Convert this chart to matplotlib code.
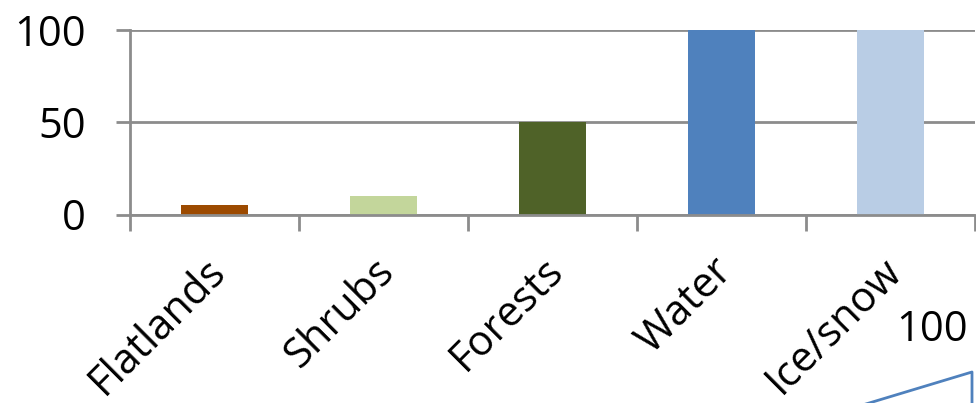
import matplotlib
matplotlib.use("Agg")
import matplotlib.pyplot as plt
from matplotlib.transforms import ScaledTranslation

plt.rcParams['font.family'] = ['Open Sans', 'DejaVu Sans']

categories = ["Flatlands", "Shrubs", "Forests", "Water", "Ice/snow"]
values = [5, 10, 50, 100, 100]
colors = ["#9C4A00", "#C3D69B", "#4F6228", "#4F81BD", "#B9CDE5"]
y_ticks = [0, 50, 100]

# fragment of a neighbouring line chart
side_x = [0, 1, 1]
side_y = [46, 100, 0]
side_label = "100"

W, H = 976, 403
fig = plt.figure(figsize=(W / 100, H / 100), dpi=100)
fig.patch.set_facecolor("white")

grey = "#8C8C8C"
fs = 30

ax = fig.add_axes([130 / W, 1 - 214.5 / H, 845 / W, (214.5 - 30) / H])
x = list(range(len(categories)))
ax.bar(x, values, width=0.4, color=colors, zorder=3)
ax.set_xlim(-0.5, len(categories) - 0.5)
ax.set_ylim(0, 100)
ax.set_yticks(y_ticks)
ax.set_yticklabels([str(v) for v in y_ticks], fontsize=fs)
ax.yaxis.grid(True, color=grey, linewidth=2, zorder=1)
ax.tick_params(axis='y', direction='out', length=10, width=2, color=grey, pad=22)

# category boundaries as major ticks, names on minor ticks
ax.set_xticks([i - 0.5 for i in range(len(categories) + 1)])
ax.set_xticklabels([])
ax.set_xticks(x, minor=True)
ax.set_xticklabels(categories, minor=True, fontsize=fs, rotation=45,
                   ha='right', va='center', rotation_mode='anchor')
ax.tick_params(axis='x', which='major', direction='out', length=11.5, width=2, color=grey)
ax.tick_params(axis='x', which='minor', length=0, pad=0)
shift = ScaledTranslation(5 / 100, -50 / 100, fig.dpi_scale_trans)
for lbl in ax.get_xticklabels(minor=True):
    lbl.set_transform(lbl.get_transform() + shift)

for side in ["top", "right"]:
    ax.spines[side].set_visible(False)
for side in ["left", "bottom"]:
    ax.spines[side].set_color(grey)
    ax.spines[side].set_linewidth(2)
ax.spines["left"].set_zorder(4)
ax.spines["bottom"].set_zorder(4)

# partial second chart in the lower right corner
ax2 = fig.add_axes([700 / W, -0.3, 272 / W, 0.3 + (1 - 372 / H)])
ax2.plot(side_x, side_y, color="#4F81BD", linewidth=2, clip_on=False)
ax2.set_xlim(0, 1)
ax2.set_ylim(0, 100)
ax2.annotate(side_label, (side_x[1], side_y[1]), xytext=(-29, 30),
             textcoords='offset points', ha='center', va='center', fontsize=fs)
ax2.axis('off')

fig.savefig("out.png", dpi=100)
